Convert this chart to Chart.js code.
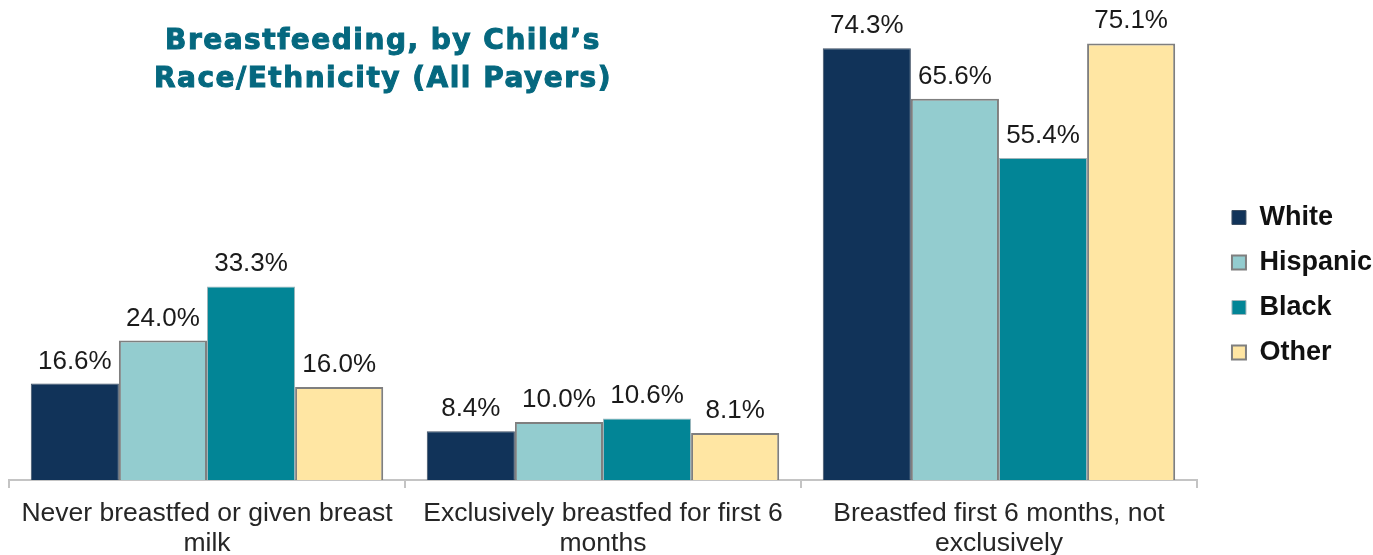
<!DOCTYPE html>
<html>
<head>
<meta charset="utf-8">
<script src="https://cdn.jsdelivr.net/npm/chart.js@4.4.0/dist/chart.umd.min.js"></script>
<style>
  html, body { margin: 0; padding: 0; background: #fff; }
  #wrap { position: relative; width: 1373px; height: 555px; }
  #title {
    position: absolute; left: 83px; top: 21px; width: 600px;
    text-align: center; color: #05687f;
    font: bold 28px "DejaVu Sans", sans-serif; line-height: 38px;
    letter-spacing: 1.5px; -webkit-text-stroke: 1px #05687f;
  }
</style>
</head>
<body>
<div id="wrap">
  <canvas id="myChart" width="1373" height="555"></canvas>
  <div id="title">Breastfeeding, by Child’s<br>Race/Ethnicity (All Payers)</div>
</div>
<script>
// data
const categories = [
  ["Never breastfed or given breast", "milk"],
  ["Exclusively breastfed for first 6", "months"],
  ["Breastfed first 6 months, not", "exclusively"]
];
const groups = ["White", "Hispanic", "Black", "Other"];
const white = [16.6, 8.4, 74.3];
const hispanic = [24.0, 10.0, 65.6];
const black = [33.3, 10.6, 55.4];
const other = [16.0, 8.1, 75.1];

const fills = ["#113359", "#93cccf", "#028596", "#ffe6a3"];
const borders = ["#3e4f63", "#7f7f7f", "#9fb5ba", "#7f7f7f"];
const borderWidths = [1, 2, 1, 2];

// value labels above each bar
const valueLabels = {
  id: "valueLabels",
  afterDatasetsDraw(chart) {
    const ctx = chart.ctx;
    ctx.save();
    ctx.font = '26px "Liberation Sans", Arial, sans-serif';
    ctx.fillStyle = "#1a1a1a";
    ctx.textAlign = "center";
    ctx.textBaseline = "alphabetic";
    chart.data.datasets.forEach((ds, i) => {
      chart.getDatasetMeta(i).data.forEach((bar, j) => {
        ctx.fillText(ds.data[j].toFixed(1) + "%", bar.x, bar.y - 15);
      });
    });
    ctx.restore();
  }
};

const myChartRef = document.getElementById("myChart").getContext("2d");

new Chart(myChartRef, {
  type: "bar",
  data: {
    labels: categories,
    datasets: [white, hispanic, black, other].map((d, i) => ({
      label: groups[i],
      data: d,
      backgroundColor: fills[i],
      borderColor: borders[i],
      borderWidth: borderWidths[i],
      categoryPercentage: 0.89,
      barPercentage: 1.0
    }))
  },
  options: {
    responsive: false,
    animation: false,
    layout: { padding: { left: 9, top: 15, right: -9, bottom: 0 } },
    plugins: {
      title: { display: false },
      tooltip: { enabled: false },
      legend: {
        position: "right",
        labels: {
          boxWidth: 14,
          boxHeight: 14,
          padding: 18,
          color: "#111",
          font: { family: '"Liberation Sans", Arial, sans-serif', size: 27, weight: "bold" }
        }
      }
    },
    scales: {
      x: {
        grid: {
          display: true, drawOnChartArea: false, drawTicks: true,
          offset: true, tickLength: 8, color: "#c4c4c4", lineWidth: 2
        },
        border: { display: true, color: "#c4c4c4", width: 2 },
        ticks: {
          color: "#262626", padding: 11, maxRotation: 0, autoSkip: false,
          font: { family: '"Liberation Sans", Arial, sans-serif', size: 26.5, lineHeight: 1.13 }
        },
        afterFit(scale) { scale.height = 75; }
      },
      y: {
        display: false,
        min: 0,
        max: 80
      },
      gap: {
        position: "right",
        display: true,
        grid: { display: false },
        border: { display: false },
        ticks: { display: false },
        afterFit(scale) { scale.width = 17; }
      }
    }
  },
  plugins: [valueLabels]
});
</script>
</body>
</html>
